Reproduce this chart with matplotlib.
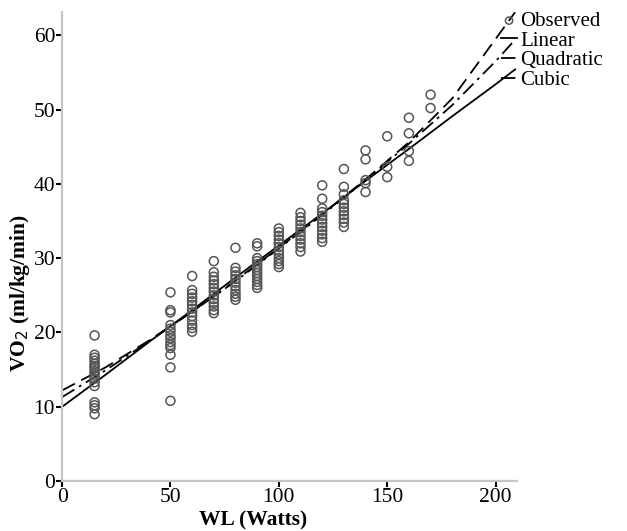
import numpy as np
import matplotlib
matplotlib.use("Agg")
import matplotlib.pyplot as plt

plt.rcParams['font.family'] = ['Liberation Serif', 'DejaVu Serif']

wl_levels = [15, 50, 60, 70, 80, 90, 100, 110, 120, 130, 140, 150, 160, 170]
vo2_obs = [
    [19.6, 17.0, 16.6, 16.2, 15.8, 15.5, 15.2, 14.8, 14.5, 14.2, 13.8, 13.3, 12.8, 10.6, 10.2, 9.8, 9.0],
    [25.4, 23.0, 22.7, 21.0, 20.5, 20.1, 19.6, 19.2, 18.7, 18.3, 17.9, 17.0, 15.3, 10.8],
    [27.6, 25.7, 25.2, 24.7, 24.2, 23.7, 23.2, 22.7, 22.2, 21.6, 21.0, 20.6, 20.1],
    [29.6, 28.1, 27.5, 27.0, 26.5, 26.0, 25.5, 25.0, 24.5, 24.0, 23.5, 23.0, 22.6],
    [31.4, 28.7, 28.2, 27.7, 27.2, 26.7, 26.2, 25.7, 25.2, 24.8, 24.4],
    [32.0, 31.6, 30.0, 29.6, 29.2, 28.8, 28.4, 28.0, 27.6, 27.2, 26.8, 26.4, 26.0],
    [34.0, 33.5, 33.0, 32.5, 32.0, 31.5, 31.0, 30.5, 30.0, 29.6, 29.2, 28.8],
    [36.1, 35.5, 35.0, 34.5, 34.0, 33.5, 33.0, 32.5, 32.0, 31.5, 30.9],
    [39.8, 38.0, 36.7, 36.2, 35.7, 35.2, 34.7, 34.2, 33.7, 33.2, 32.7, 32.2],
    [42.0, 39.6, 38.6, 37.8, 37.3, 36.8, 36.3, 35.8, 35.3, 34.8, 34.2],
    [44.5, 43.3, 40.5, 40.1, 38.9],
    [46.4, 42.3, 40.9],
    [48.9, 46.8, 44.4, 43.1],
    [52.0, 50.2],
]

# fitted curves
fit_x = [0, 20, 40, 60, 80, 100, 120, 140, 160, 180, 200, 209]
linear_y = [10.0, 14.3, 18.7, 23.0, 27.4, 31.7, 36.0, 40.4, 44.7, 49.1, 53.4, 55.4]
quad_y = [11.3, 14.9, 18.8, 22.8, 26.9, 31.3, 35.8, 40.5, 45.4, 50.6, 56.5, 59.4]
cubic_y = [12.2, 15.3, 18.9, 22.8, 27.0, 31.4, 35.9, 40.6, 45.6, 51.5, 59.5, 63.1]

fig = plt.figure(figsize=(6.27, 5.31), dpi=100)
ax = fig.add_axes([0.099, 0.094, 0.726, 0.883])

xs, ys = [], []
for w, vals in zip(wl_levels, vo2_obs):
    xs += [w] * len(vals)
    ys += vals
ax.scatter(xs, ys, s=42, facecolors='none', edgecolors='#555555', linewidths=1.1,
           label='Observed', zorder=3)

ax.plot(fit_x, linear_y, color='black', lw=1.3, label='Linear')
ax.plot(fit_x, quad_y, color='black', lw=1.3, dashes=[8, 3, 1.5, 3], label='Quadratic')
ax.plot(fit_x, cubic_y, color='black', lw=1.3, dashes=[8, 4], label='Cubic')

ax.set_xlim(0, 210)
ax.set_ylim(0, 63.1)
ax.set_xticks([0, 50, 100, 150, 200])
ax.set_yticks([0, 10, 20, 30, 40, 50, 60])

for s in ['top', 'right']:
    ax.spines[s].set_visible(False)
for s in ['left', 'bottom']:
    ax.spines[s].set_color('#c4c4cc')
    ax.spines[s].set_linewidth(1.6)
ax.tick_params(direction='out', length=4, width=1.5, color='black', labelsize=15.5, pad=1)

ax.set_xlabel('WL (Watts)', fontsize=15.5, fontweight='bold')
ax.xaxis.set_label_coords(0.42, -0.062)
ax.set_ylabel('VO$_2$ (ml/kg/min)', fontsize=15.5, fontweight='bold')
ax.yaxis.set_label_coords(-0.065, 0.40)

leg = ax.legend(loc='upper left', bbox_to_anchor=(0.782, 0.998), bbox_transform=fig.transFigure,
                frameon=False, fontsize=15, handlelength=0.8, handletextpad=0.15,
                labelspacing=0.0, borderpad=0, markerscale=0.8)

fig.savefig('out.png', dpi=100)
